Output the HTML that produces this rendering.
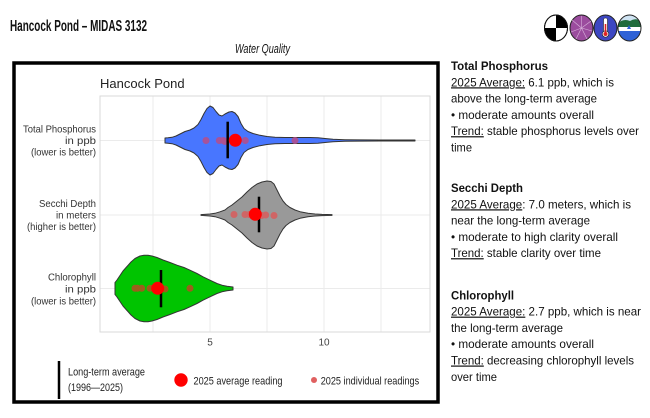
<!DOCTYPE html>
<html><head><meta charset="utf-8"><style>
html,body{margin:0;padding:0;background:#fff;}
svg{display:block;font-family:"Liberation Sans",Arial,sans-serif;}
</style></head><body>
<svg width="650" height="418" viewBox="0 0 650 418" xmlns="http://www.w3.org/2000/svg">
<rect width="650" height="418" fill="#fff"/>
<!-- Header -->
<text x="10" y="31" font-size="15.5" font-weight="bold" fill="#111" textLength="137" lengthAdjust="spacingAndGlyphs">Hancock Pond – MIDAS 3132</text>
<text x="235" y="53" font-size="13" font-style="italic" fill="#111" textLength="55" lengthAdjust="spacingAndGlyphs">Water Quality</text>

<!-- Icons -->
<g stroke="#111" stroke-width="1">
  <ellipse cx="556" cy="28" rx="11.5" ry="13" fill="#fff"/>
  <path d="M556,28 L556,15 A11.5,13 0 0,1 567.5,28 Z" fill="#000" stroke="none"/>
  <path d="M556,28 L556,41 A11.5,13 0 0,1 544.5,28 Z" fill="#000" stroke="none"/>
  <ellipse cx="556" cy="28" rx="11.5" ry="13" fill="none"/>
</g>
<g>
  <ellipse cx="581.5" cy="28" rx="11.5" ry="13" fill="#9b4c9e" stroke="#222" stroke-width="1"/>
  <g stroke="#d9b3dc" stroke-width="0.6">
    <line x1="581.5" y1="28" x2="581.5" y2="16"/><line x1="581.5" y1="28" x2="591" y2="21"/>
    <line x1="581.5" y1="28" x2="592" y2="31"/><line x1="581.5" y1="28" x2="587" y2="39"/>
    <line x1="581.5" y1="28" x2="576" y2="39"/><line x1="581.5" y1="28" x2="571" y2="32"/>
    <line x1="581.5" y1="28" x2="572" y2="20"/>
  </g>
</g>
<g>
  <ellipse cx="605.5" cy="28" rx="11.5" ry="13" fill="#3d47c2" stroke="#222" stroke-width="1"/>
  <rect x="603.5" y="18" width="4" height="15" rx="2" fill="#fff" stroke="#222" stroke-width="0.6"/>
  <circle cx="605.5" cy="34" r="3.2" fill="#fff" stroke="#222" stroke-width="0.6"/>
  <rect x="604.7" y="24" width="1.6" height="10" fill="#d22"/>
  <circle cx="605.5" cy="34" r="2" fill="#d22"/>
</g>
<g>
  <clipPath id="c4"><ellipse cx="629.5" cy="28" rx="11.5" ry="13"/></clipPath>
  <g clip-path="url(#c4)">
    <rect x="617" y="14" width="25" height="28" fill="#cfe3f2"/>
    <path d="M617,24 Q623,18 630,21 Q636,17 642,22 L642,27 L617,27 Z" fill="#1f6b3c"/>
    <rect x="617" y="27" width="25" height="4" fill="#fff"/>
    <rect x="617" y="31" width="25" height="12" fill="#2f62d6"/>
    <path d="M627,29 L629,25 L631,29 Z" fill="#2f62d6"/>
  </g>
  <ellipse cx="629.5" cy="28" rx="11.5" ry="13" fill="none" stroke="#222" stroke-width="1"/>
</g>

<!-- Frame -->
<rect x="14" y="63" width="424" height="339" fill="#fff" stroke="#000" stroke-width="3.5"/>

<!-- Chart title -->
<text x="100" y="88" font-size="13" fill="#222">Hancock Pond</text>

<!-- Panel -->
<rect x="100" y="96" width="330" height="236" fill="#fff" stroke="#d9d9d9" stroke-width="1"/>
<g stroke="#ebebeb" stroke-width="1">
  <line x1="153" y1="96.5" x2="153" y2="331.5"/>
  <line x1="210" y1="96.5" x2="210" y2="331.5"/>
  <line x1="267" y1="96.5" x2="267" y2="331.5"/>
  <line x1="324" y1="96.5" x2="324" y2="331.5"/>
  <line x1="381" y1="96.5" x2="381" y2="331.5"/>
  <line x1="100.5" y1="140.5" x2="429.5" y2="140.5"/>
  <line x1="100.5" y1="215" x2="429.5" y2="215"/>
  <line x1="100.5" y1="288.5" x2="429.5" y2="288.5"/>
</g>

<!-- Y labels -->
<g font-size="10.5" fill="#333" text-anchor="end">
  <text x="96" y="132.5" textLength="73" lengthAdjust="spacingAndGlyphs">Total Phosphorus</text>
  <text x="96" y="144" textLength="31" lengthAdjust="spacingAndGlyphs">in ppb</text>
  <text x="96" y="155.5" textLength="65" lengthAdjust="spacingAndGlyphs">(lower is better)</text>
  <text x="96" y="207" textLength="57" lengthAdjust="spacingAndGlyphs">Secchi Depth</text>
  <text x="96" y="218.5" textLength="40" lengthAdjust="spacingAndGlyphs">in meters</text>
  <text x="96" y="230" textLength="69" lengthAdjust="spacingAndGlyphs">(higher is better)</text>
  <text x="96" y="280.5" textLength="48" lengthAdjust="spacingAndGlyphs">Chlorophyll</text>
  <text x="96" y="292.5" textLength="31" lengthAdjust="spacingAndGlyphs">in ppb</text>
  <text x="96" y="304.5" textLength="65" lengthAdjust="spacingAndGlyphs">(lower is better)</text>
</g>
<!-- X tick labels -->
<g font-size="10" fill="#444" text-anchor="middle">
  <text x="210" y="345.5">5</text>
  <text x="324" y="345.5">10</text>
</g>

<!-- Phosphorus violin -->
<polygon fill="#4876ff" stroke="#333" stroke-width="1" stroke-linejoin="round" points="165,138 168,137.8 172,137.3 176,136 180,134 185,131.5 190,130 194,128 198,124.5 201,119.5 204,113.5 207,108.5 210,106 213,107.5 216,111.5 219,115 222,116 225,114 229,112 232,111.5 235,113 238,116.5 241,123.5 244,128.5 248,131.5 253,133.5 260,135.3 267,136.5 275,137.2 285,137.5 300,137.5 310,137.5 318,137.7 325,138.5 333,139.3 345,139.7 360,139.9 380,140 415,140 415,141 380,141 360,141.1 345,141.3 333,141.7 325,142.5 318,143.3 310,143.5 300,143.5 285,143.5 275,143.8 267,144.5 260,145.7 253,147.5 248,149.5 244,152.5 241,157.5 238,164.5 235,168 232,169.5 229,169 225,167 222,165 219,166 216,169.5 213,173.5 210,175 207,172.5 204,167.5 201,161.5 198,156.5 194,153 190,151 185,149.5 180,147 176,145 172,143.7 168,143.2 165,143"/>
<g fill="#b0508f" fill-opacity="0.9">
  <circle cx="206" cy="140.5" r="3.5"/><circle cx="219.3" cy="140.5" r="3.5"/>
  <circle cx="223.3" cy="140.5" r="3.5"/><circle cx="225" cy="141.5" r="3.5"/>
  <circle cx="245.3" cy="140.5" r="3.5"/><circle cx="295" cy="140.5" r="3.5"/>
</g>
<line x1="227.7" y1="121.7" x2="227.7" y2="158.3" stroke="#000" stroke-width="2.5"/>
<circle cx="235.3" cy="140.3" r="6.5" fill="#ff0000"/>

<!-- Secchi violin -->
<polygon fill="#999999" stroke="#333" stroke-width="1" stroke-linejoin="round" points="201,214.6 210,214 215,213.3 220,211.8 225,210 228,207.5 232,205 237,201 242,197 247,192 252,187.5 257,184 262,182 267,181 271,181.5 274,184 277,190 280,196 283,201 286,204.5 290,207.5 295,210 300,211.7 308,213.3 315,214 322,214.4 332,214.6 332,215.4 322,215.6 315,216 308,216.7 300,218.3 295,220 290,222.5 286,225.5 283,229 280,234 277,240 274,246 271,248.5 267,249 262,248 257,246 252,242.5 247,238 242,233 237,229 232,225 228,222.5 225,220 220,218.2 215,216.7 210,216 201,215.4"/>
<g fill="#cf6565">
  <circle cx="234" cy="214.5" r="3.5"/><circle cx="245" cy="214.5" r="3.5"/>
  <circle cx="249.3" cy="214.5" r="3.5"/><circle cx="261.7" cy="215.5" r="3.5"/>
  <circle cx="265.7" cy="215" r="3.5"/><circle cx="274" cy="215.5" r="3.5"/>
</g>
<line x1="259" y1="196.7" x2="259" y2="232.3" stroke="#000" stroke-width="2.5"/>
<circle cx="255.3" cy="214.3" r="6.5" fill="#ff0000"/>

<!-- Chlorophyll violin -->
<polygon fill="#00c400" stroke="#333" stroke-width="1" stroke-linejoin="round" points="115,282.5 117,280 120,275.5 123,271 127,266.5 131,262 135,258.5 140,256 144,255.2 148,255.2 152,256 157,257.5 163,260 170,262.5 177,265.2 184,267.5 190,270.2 197,273.5 203,276.8 210,280.2 217,283.5 222,285.2 227,286.2 233,287 233,290 227,290.8 222,291.8 217,293.5 210,296.8 203,300.2 197,303.5 190,306.8 184,309.5 177,311.8 170,314.5 163,317 157,319.5 152,321 148,321.8 144,321.8 140,321 135,318.5 131,315 127,310.5 123,306 120,301.5 117,297 115,294.5"/>
<g fill="#9b5e1c">
  <circle cx="135" cy="288.3" r="3.5"/><circle cx="137.5" cy="288.3" r="3.5"/>
  <circle cx="141.7" cy="288.3" r="3.5"/><circle cx="150" cy="288.3" r="3.5"/>
  <circle cx="165" cy="289" r="3.5"/><circle cx="190" cy="288.3" r="3.5"/>
</g>
<line x1="161" y1="270" x2="161" y2="307.3" stroke="#000" stroke-width="2.5"/>
<circle cx="157.7" cy="288.3" r="6.5" fill="#ff0000"/>

<!-- Legend -->
<line x1="59" y1="361" x2="59" y2="399" stroke="#000" stroke-width="2.5"/>
<g font-size="11" fill="#222">
  <text x="68" y="375.5" textLength="77" lengthAdjust="spacingAndGlyphs">Long-term average</text>
  <text x="68" y="391" textLength="55" lengthAdjust="spacingAndGlyphs">(1996—2025)</text>
  <text x="193.5" y="384.5" textLength="89" lengthAdjust="spacingAndGlyphs">2025 average reading</text>
  <text x="320.7" y="384.5" textLength="98.5" lengthAdjust="spacingAndGlyphs">2025 individual readings</text>
</g>
<circle cx="181" cy="380" r="6.7" fill="#ff0000"/>
<circle cx="314" cy="380" r="3" fill="#e06060"/>

<!-- Right panel text -->
<g font-size="12" fill="#111">
  <text x="451" y="70" font-weight="bold" textLength="97" lengthAdjust="spacingAndGlyphs">Total Phosphorus</text>
  <text x="451" y="86.3" textLength="163" lengthAdjust="spacingAndGlyphs"><tspan text-decoration="underline">2025 Average:</tspan> 6.1 ppb, which is</text>
  <text x="451" y="102.6" textLength="146" lengthAdjust="spacingAndGlyphs">above the long-term average</text>
  <text x="451" y="118.9" textLength="143" lengthAdjust="spacingAndGlyphs">• moderate amounts overall</text>
  <text x="451" y="135.2" textLength="188" lengthAdjust="spacingAndGlyphs"><tspan text-decoration="underline">Trend:</tspan> stable phosphorus levels over</text>
  <text x="451" y="151.5" textLength="21" lengthAdjust="spacingAndGlyphs">time</text>

  <text x="451" y="192" font-weight="bold" textLength="72" lengthAdjust="spacingAndGlyphs">Secchi Depth</text>
  <text x="451" y="208.3" textLength="180" lengthAdjust="spacingAndGlyphs"><tspan text-decoration="underline">2025 Average</tspan>: 7.0 meters, which is</text>
  <text x="451" y="224.6" textLength="139" lengthAdjust="spacingAndGlyphs">near the long-term average</text>
  <text x="451" y="240.9" textLength="167" lengthAdjust="spacingAndGlyphs">• moderate to high clarity overall</text>
  <text x="451" y="257.2" textLength="150" lengthAdjust="spacingAndGlyphs"><tspan text-decoration="underline">Trend:</tspan> stable clarity over time</text>

  <text x="451" y="299.3" font-weight="bold" textLength="63" lengthAdjust="spacingAndGlyphs">Chlorophyll</text>
  <text x="451" y="315.6" textLength="190" lengthAdjust="spacingAndGlyphs"><tspan text-decoration="underline">2025 Average:</tspan> 2.7 ppb, which is near</text>
  <text x="451" y="331.9" textLength="112" lengthAdjust="spacingAndGlyphs">the long-term average</text>
  <text x="451" y="348.2" textLength="143" lengthAdjust="spacingAndGlyphs">• moderate amounts overall</text>
  <text x="451" y="364.5" textLength="183" lengthAdjust="spacingAndGlyphs"><tspan text-decoration="underline">Trend:</tspan> decreasing chlorophyll levels</text>
  <text x="451" y="380.8" textLength="46" lengthAdjust="spacingAndGlyphs">over time</text>
</g>
</svg>
</body></html>
